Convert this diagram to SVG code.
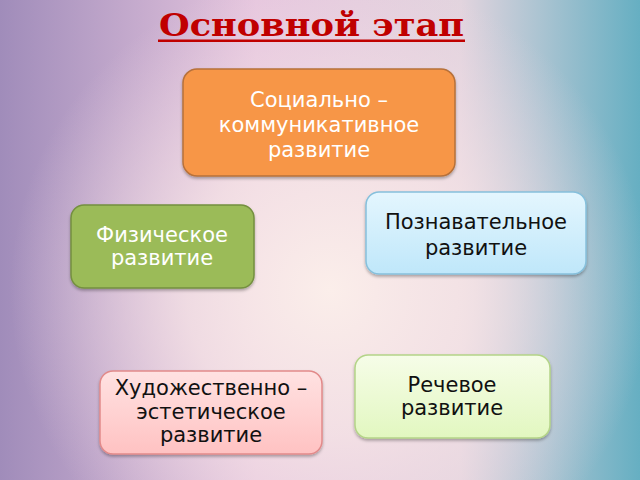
<svg xmlns="http://www.w3.org/2000/svg" width="640" height="480" viewBox="0 0 640 480">
<defs>
<linearGradient id="bg" x1="0" y1="0" x2="1" y2="0">
<stop offset="0" stop-color="#A08CBA"/>
<stop offset="0.4" stop-color="#E6C6DE"/>
<stop offset="0.72" stop-color="#E2D4DE"/>
<stop offset="1" stop-color="#66AFC2"/>
</linearGradient>
<radialGradient id="glow" cx="330" cy="290" r="320" gradientUnits="userSpaceOnUse">
<stop offset="0" stop-color="#FBEEEA" stop-opacity="1"/>
<stop offset="0.45" stop-color="#F6E4E6" stop-opacity="0.8"/>
<stop offset="1" stop-color="#F0D8E4" stop-opacity="0"/>
</radialGradient>
<linearGradient id="gBlue" x1="0" y1="0" x2="0" y2="1">
<stop offset="0" stop-color="#E4F6FE"/>
<stop offset="1" stop-color="#BFE7FA"/>
</linearGradient>
<linearGradient id="gPink" x1="0" y1="0" x2="0" y2="1">
<stop offset="0" stop-color="#FFE2E2"/>
<stop offset="1" stop-color="#FFC2C2"/>
</linearGradient>
<linearGradient id="gLime" x1="0" y1="0" x2="0" y2="1">
<stop offset="0" stop-color="#F6FDE8"/>
<stop offset="1" stop-color="#E2F7C0"/>
</linearGradient>
<filter id="sh" x="-10%" y="-10%" width="120%" height="130%">
<feDropShadow dx="0" dy="2" stdDeviation="1.5" flood-color="#000" flood-opacity="0.3"/>
</filter>
</defs>
<style>
.t{font-family:"DejaVu Sans","Noto Sans",sans-serif;font-size:21px;text-anchor:middle}
.w{fill:#FFFFFF}
.k{fill:#111111}
.box{stroke-width:1.5;filter:url(#sh)}
.title{font-family:"DejaVu Serif","Liberation Serif",serif;font-weight:bold;font-size:32px;fill:#C00000}
</style>
<rect x="0" y="0" width="640" height="480" fill="url(#bg)"/>
<rect x="0" y="0" width="640" height="480" fill="url(#glow)"/>
<g id="title">
<text class="title" x="159" y="36" textLength="305" lengthAdjust="spacingAndGlyphs">Основной этап</text>
<rect x="158" y="39.5" width="307" height="2.5" fill="#C00000"/>
</g>
<g id="connectors"></g>
<g id="social">
<rect class="box" x="183" y="69" width="272" height="107" rx="14" fill="#F79646" stroke="#B7713A"/>
<text class="t w" x="319" y="107">Социально –</text>
<text class="t w" x="319" y="132">коммуникативное</text>
<text class="t w" x="319" y="157">развитие</text>
</g>
<g id="physical">
<rect class="box" x="71" y="205" width="183" height="83" rx="13" fill="#9BBB59" stroke="#74903F"/>
<text class="t w" x="162" y="242">Физическое</text>
<text class="t w" x="162" y="265">развитие</text>
</g>
<g id="cognitive">
<rect class="box" x="366" y="192" width="220" height="82" rx="13" fill="url(#gBlue)" stroke="#86C0DC"/>
<text class="t k" x="476" y="229">Познавательное</text>
<text class="t k" x="476" y="255">развитие</text>
</g>
<g id="artistic">
<rect class="box" x="100" y="371" width="222" height="83" rx="13" fill="url(#gPink)" stroke="#E28A8A"/>
<text class="t k" x="211" y="395">Художественно –</text>
<text class="t k" x="211" y="419">эстетическое</text>
<text class="t k" x="211" y="442">развитие</text>
</g>
<g id="speech">
<rect class="box" x="355" y="355" width="195" height="83" rx="13" fill="url(#gLime)" stroke="#B4D488"/>
<text class="t k" x="452" y="392">Речевое</text>
<text class="t k" x="452" y="415">развитие</text>
</g>
</svg>
